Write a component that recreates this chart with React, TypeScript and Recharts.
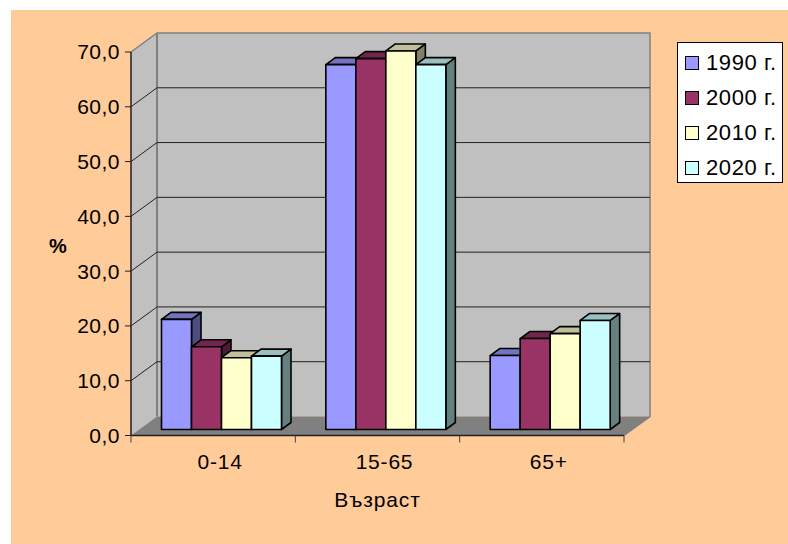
import { BarChart, Bar, XAxis, YAxis, CartesianGrid, Legend, ReferenceArea } from "recharts";

const ageGroups = ["0-14", "15-65", "65+"];
const seriesNames = ["1990 г.", "2000 г.", "2010 г.", "2020 г."];
const values1990 = [20.1, 66.6, 13.5];
const values2000 = [15.1, 67.7, 16.6];
const values2010 = [13.1, 69.1, 17.5];
const values2020 = [13.4, 66.6, 19.9];
const yTicks = [0, 10, 20, 30, 40, 50, 60, 70];

const allValues = [values1990, values2000, values2010, values2020];
const data = ageGroups.map((age, i) => {
  const row: Record<string, string | number> = { age };
  seriesNames.forEach((name, s) => {
    row[name] = allValues[s][i];
  });
  return row;
});

const fills = ["#9999FF", "#993366", "#FFFFCC", "#CCFFFF"];
const tops = ["#7373BF", "#73264D", "#BFBF99", "#99BFBF"];
const sides = ["#4D4D80", "#4D1A33", "#808066", "#668080"];

// depth of the box behind the axes
const WALL_DX = 26;
const WALL_DY = -19;
// where the bars stand on the floor, and how deep each one is
const BAR_DX = 8.5;
const BAR_DY = -6;
const BAR_DEPTH_X = 9.5;
const BAR_DEPTH_Y = -7;

const FONT = "'Liberation Sans', Arial, sans-serif";
const TEXT = "#000000";

const Walls = ({ x, y, width, height }: any) => {
  const bottom = y + height;
  const right = x + width;
  return (
    <g>
      <polygon
        points={`${x},${y} ${x + WALL_DX},${y + WALL_DY} ${x + WALL_DX},${bottom + WALL_DY} ${x},${bottom}`}
        fill="#C0C0C0"
      />
      <rect x={x + WALL_DX} y={y + WALL_DY} width={width} height={height} fill="#C0C0C0" />
      <polygon
        points={`${x},${bottom} ${x + WALL_DX},${bottom + WALL_DY} ${right + WALL_DX},${bottom + WALL_DY} ${right},${bottom}`}
        fill="#808080"
      />
      <polyline
        points={`${x},${y} ${x + WALL_DX},${y + WALL_DY} ${right + WALL_DX},${y + WALL_DY} ${right + WALL_DX},${bottom + WALL_DY} ${right},${bottom}`}
        fill="none"
        stroke="#808080"
        strokeWidth={1.5}
      />
      <line x1={x + WALL_DX} y1={y + WALL_DY} x2={x + WALL_DX} y2={bottom + WALL_DY} stroke="#808080" strokeWidth={2} />
    </g>
  );
};

// one grid line runs across the side wall and then along the back wall
const gridLine = ({ x1, y1, x2, index }: any) => (
  <polyline
    key={index}
    points={`${x1},${y1} ${x1 + WALL_DX},${y1 + WALL_DY} ${x2 + WALL_DX},${y1 + WALL_DY}`}
    fill="none"
    stroke={y1 > 430 || y1 < 60 ? "none" : "#202020"}
    strokeWidth={1}
  />
);

const box3d = (s: number) => (props: any) => {
  const { x, y, width, height } = props;
  const l = x + BAR_DX;
  const t = y + BAR_DY;
  const r = l + width;
  const b = t + height;
  const dx = BAR_DEPTH_X;
  const dy = BAR_DEPTH_Y;
  return (
    <g stroke="#000000" strokeWidth={1.6} strokeLinejoin="round">
      <polygon points={`${r},${t} ${r + dx},${t + dy} ${r + dx},${b + dy} ${r},${b}`} fill={sides[s]} />
      <polygon points={`${l},${t} ${l + dx},${t + dy} ${r + dx},${t + dy} ${r},${t}`} fill={tops[s]} />
      <rect x={l} y={t} width={width} height={height} fill={fills[s]} />
    </g>
  );
};

const AgeTick = ({ x, y, payload, index }: any) => {
  const half = 493 / 6;
  return (
    <g>
      <line x1={x - half} y1={y - 8} x2={x - half} y2={y - 1} stroke="#404040" />
      {index === ageGroups.length - 1 && (
        <line x1={x + half} y1={y - 8} x2={x + half} y2={y - 1} stroke="#404040" />
      )}
      <text x={x + 7} y={y + 25} textAnchor="middle" fontSize={21} fontFamily={FONT} fill={TEXT} letterSpacing={0.8}>
        {payload.value}
      </text>
    </g>
  );
};

const LegendBox = ({ payload }: any) => (
  <div
    style={{
      boxSizing: "border-box",
      width: 106,
      height: 141,
      border: "1px solid #000",
      background: "#fff",
      paddingTop: 2,
    }}
  >
    {(payload || []).map((item: any, i: number) => (
      <div key={i} style={{ display: "flex", alignItems: "center", height: 35.2, fontFamily: FONT, fontSize: 22, color: TEXT }}>
        <span
          style={{
            boxSizing: "border-box",
            width: 14,
            height: 14,
            marginLeft: 7,
            marginRight: 7,
            border: "1.5px solid #000",
            background: item.color,
          }}
        />
        <span style={{ letterSpacing: 0.6, whiteSpace: "nowrap" }}>{item.value}</span>
      </div>
    ))}
  </div>
);

export default function App() {
  return (
    <div style={{ position: "absolute", left: 0, top: 0, width: 788, height: 544, background: "#fff" }}>
      <div style={{ position: "absolute", left: 11, top: 10, width: 777, height: 534, background: "#FFCC99" }} />
      <BarChart
        width={788}
        height={544}
        data={data}
        margin={{ top: 52, right: 164, bottom: 78.5, left: 71 }}
        barCategoryGap={22.17}
        barGap={0}
        style={{ position: "absolute", left: 0, top: 0 }}
      >
        <ReferenceArea y1={0} y2={70} ifOverflow="visible" shape={Walls} fill="none" stroke="none" zIndex={-200} />
        <CartesianGrid vertical={false} horizontal={gridLine} />
        <XAxis
          dataKey="age"
          height={30}
          axisLine={{ stroke: "#202020", strokeWidth: 1.5 }}
          tickLine={false}
          tick={AgeTick}
          interval={0}
          label={{
            value: "Възраст",
            position: "insideBottom",
            offset: -41,
            fontSize: 21,
            fontFamily: FONT,
            fill: TEXT,
            letterSpacing: 0.9,
          }}
        />
        <YAxis
          width={60}
          domain={[0, 70]}
          ticks={yTicks}
          interval={0}
          tickSize={6}
          tickMargin={5}
          axisLine={{ stroke: "#202020", strokeWidth: 1.5 }}
          tickLine={{ stroke: "#202020" }}
          tickFormatter={(v: number) => v.toFixed(1).replace(".", ",")}
          tick={{ fontSize: 21, fontFamily: FONT, fill: TEXT, letterSpacing: 0.5 }}
          label={{ value: "%", position: "insideLeft", offset: -22, dy: 2, fontSize: 20, fontWeight: 700, fontFamily: FONT, fill: TEXT }}
        />
        <Legend
          layout="vertical"
          align="center"
          verticalAlign="middle"
          content={LegendBox}
          wrapperStyle={{ left: 677, top: 42, width: 106, height: 141 }}
        />
        {seriesNames.map((name, s) => (
          <Bar key={name} dataKey={name} barSize={30} fill={fills[s]} shape={box3d(s)} isAnimationActive={false} />
        ))}
      </BarChart>
    </div>
  );
}
